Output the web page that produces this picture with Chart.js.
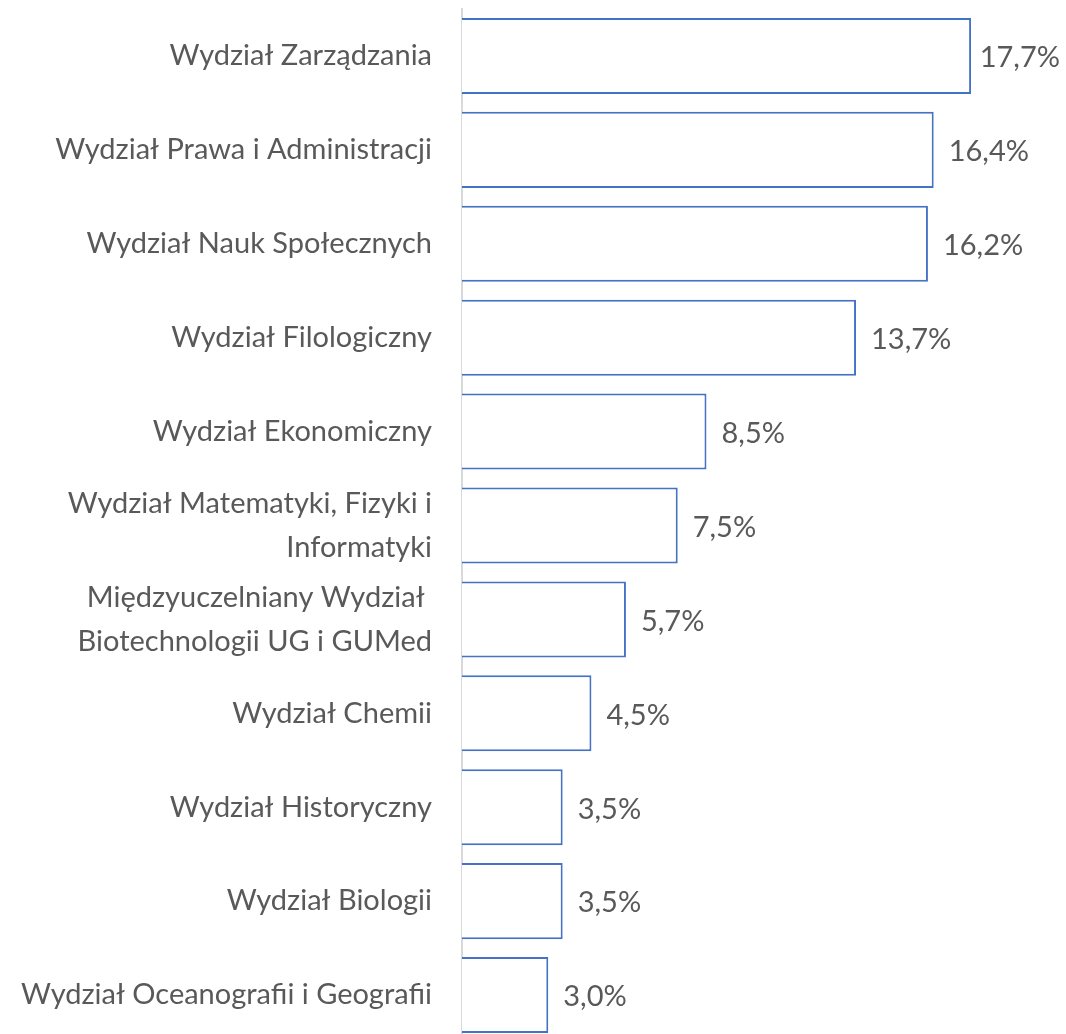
<!DOCTYPE html>
<html>
<head>
<meta charset="utf-8">
<script src="https://cdn.jsdelivr.net/npm/chart.js@4"></script>
<style>
  html, body { margin: 0; padding: 0; background: #fff; overflow: hidden; }
  #wrap { width: 1066px; height: 1044px; }
</style>
</head>
<body>
<div id="wrap"><canvas id="wydzialy"></canvas></div>
<script>
// udział procentowy wg wydziałów
const wydzialy = [
  'Wydział Zarządzania',
  'Wydział Prawa i Administracji',
  'Wydział Nauk Społecznych',
  'Wydział Filologiczny',
  'Wydział Ekonomiczny',
  ['Wydział Matematyki, Fizyki i', 'Informatyki'],
  ['Międzyuczelniany Wydział ', 'Biotechnologii UG i GUMed'],
  'Wydział Chemii',
  'Wydział Historyczny',
  'Wydział Biologii',
  'Wydział Oceanografii i Geografii'
];
const udzialy = [17.7, 16.4, 16.2, 13.7, 8.5, 7.5, 5.7, 4.5, 3.5, 3.5, 3.0];

const fontRodzina = 'Lato, "Open Sans", sans-serif';
const szary = '#595959';

// etykiety z wartością po prawej stronie słupka (przesunięte, gdy nie mieszczą się)
const etykiety = {
  id: 'etykiety',
  afterDatasetsDraw(chart) {
    const ctx = chart.ctx;
    const meta = chart.getDatasetMeta(0);
    ctx.save();
    ctx.font = '29px ' + fontRodzina;
    ctx.fillStyle = szary;
    ctx.textAlign = 'left';
    ctx.textBaseline = 'middle';
    meta.data.forEach((bar, i) => {
      const txt = udzialy[i].toFixed(1).replace('.', ',') + '%';
      const w = ctx.measureText(txt).width;
      const x = Math.min(bar.x + 15, chart.width - 6 - w);
      ctx.fillText(txt, x, bar.y + 2);
    });
    ctx.restore();
  }
};

new Chart(document.getElementById('wydzialy'), {
  type: 'bar',
  data: {
    labels: wydzialy,
    datasets: [{
      data: udzialy,
      backgroundColor: '#ffffff',
      borderColor: '#4472C4',
      borderWidth: 2,
      categoryPercentage: 1,
      barPercentage: 0.81
    }]
  },
  options: {
    indexAxis: 'y',
    responsive: true,
    maintainAspectRatio: false,
    animation: false,
    layout: { padding: { top: 9, bottom: 2, left: 0, right: 0 } },
    plugins: {
      legend: { display: false },
      tooltip: { enabled: false }
    },
    scales: {
      x: {
        display: false,
        min: 0,
        max: 21.0
      },
      y: {
        grid: { display: false, drawTicks: false },
        border: { color: '#d9d9d9', width: 2 },
        afterFit(scale) {
          scale.width = 462;
          scale.paddingTop = 0;
          scale.paddingBottom = 0;
        },
        ticks: {
          color: szary,
          padding: 30,
          font: { family: fontRodzina, size: 29, lineHeight: 1.5 }
        }
      }
    }
  },
  plugins: [etykiety]
});
</script>
</body>
</html>
